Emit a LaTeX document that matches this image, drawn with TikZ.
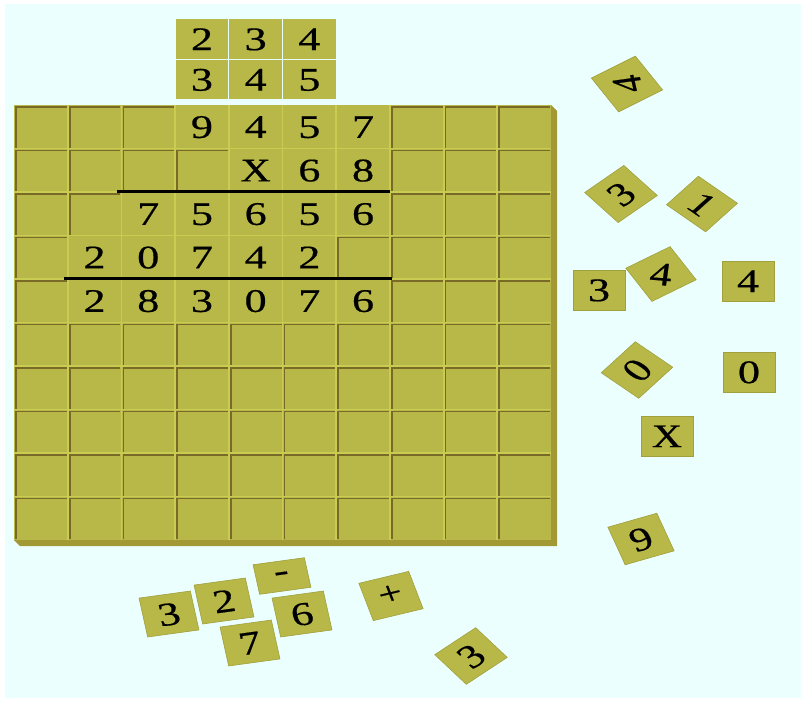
\documentclass[tikz,border=0pt]{standalone}
\usepackage{fontspec}
\setmainfont{Liberation Serif}
\newfontfamily\tilefont[FakeBold=0.5]{Liberation Serif}
\definecolor{sky}{RGB}{236,255,255}
\definecolor{tilecol}{RGB}{184,184,72}
\definecolor{groovecol}{RGB}{122,106,40}
\definecolor{gapcol}{RGB}{200,204,82}
\definecolor{sidecol}{RGB}{163,153,52}
\definecolor{edgecol}{RGB}{160,160,62}
\newcommand\dg[1]{\scalebox{1.05}[1]{#1}}

\begin{document}
\begin{tikzpicture}[x=1pt,y=-1pt]
  \tikzset{
    digit/.style={inner sep=0pt, font=\tilefont\fontsize{33}{33}\selectfont, text height=22.3pt, text depth=0pt},
    tile/.style={digit, fill=tilecol, xscale=1.27, minimum width=41pt, minimum height=40pt},
    cell/.style={tile, minimum height=42pt},
    loose/.style={tile, draw=edgecol, line width=.6pt},
    groove/.style={draw=groovecol, line width=1.7pt},
    gap/.style={draw=gapcol, line width=1.8pt},
    rule/.style={draw=black, line width=2.6pt}
  }
  % background
  \fill[white] (0,0) rectangle (806,702);
  \fill[sky] (5,4) rectangle (801,698);
  \useasboundingbox (0,0) rectangle (806,702);
  % board
  \fill[sidecol] (14,540) -- (20,546) -- (557,546) -- (557,111) -- (551,105) -- cycle;
  \fill[tilecol] (14,105) rectangle (551,540);
  \foreach \i in {1,...,9} {
    \draw[gap] ({14+\i*53.7},105) -- ++(0,435);
    \draw[gap] (14,{105+\i*43.5}) -- ++(537,0);
  }
  \foreach \c in {0,...,9}
    \foreach \r in {0,...,9}
      \draw[groove] ({16+\c*53.7},{104+(\r+1)*43.5}) |- ({13+(\c+1)*53.7},{107+\r*43.5});
  % tiles laid on the board
  \foreach \d [count=\c from 4] in {9,4,5,7}
    \node[cell] (a\c) at ({14+(\c-.5)*53.7},126.75) {\dg{\d}};
  \node[cell] (b5) at ({14+4.5*53.7},170.25) {X};
  \foreach \d [count=\c from 6] in {6,8}
    \node[cell] (b\c) at ({14+(\c-.5)*53.7},170.25) {\dg{\d}};
  \foreach \d [count=\c from 3] in {7,5,6,5,6}
    \node[cell] (c\c) at ({14+(\c-.5)*53.7},213.75) {\dg{\d}};
  \foreach \d [count=\c from 2] in {2,0,7,4,2}
    \node[cell] (d\c) at ({14+(\c-.5)*53.7},257.25) {\dg{\d}};
  \foreach \d [count=\c from 2] in {2,8,3,0,7,6}
    \node[cell] (e\c) at ({14+(\c-.5)*53.7},300.75) {\dg{\d}};
  \coordinate (u1) at (117,191.5);
  \coordinate (v1) at (390,191.5);
  \coordinate (u2) at (64,278.5);
  \coordinate (v2) at (392,278.5);
  \draw[rule] (u1) -- (v1);
  \draw[rule] (u2) -- (v2);
  % tiles above the board
  \foreach \d [count=\c from 4] in {2,3,4}
    \node[tile, minimum width=41.3pt, minimum height=39.5pt] (t\c) at ({14+(\c-.5)*53.7},39) {\dg{\d}};
  \foreach \d [count=\c from 4] in {3,4,5}
    \node[tile, minimum width=41.3pt, minimum height=39.5pt] (s\c) at ({14+(\c-.5)*53.7},79.5) {\dg{\d}};
  % loose tiles on the right
  \node[loose, rotate=32.4] (f1) at (627,84) {};
  \node[digit, xscale=1.27, rotate=100] (f1d) at (f1) {\dg{4}};
  \node[loose, rotate=41.3] (f2) at (621,194) {\dg{3}};
  \node[loose, rotate=-41.3, minimum height=38pt] (f3) at (702,204) {\dg{1}};
  \node[loose] (f4) at (599,290) {\dg{3}};
  \node[loose, rotate=31.8, minimum height=39pt] (f5) at (661,274) {};
  \node[digit, xscale=1.27, rotate=-6] (f5d) at (f5) {\dg{4}};
  \node[loose] (f6) at (748,281) {\dg{4}};
  \node[loose, rotate=49.2, minimum height=39pt] (f7) at (637,370) {\dg{0}};
  \node[loose] (f8) at (749,372) {\dg{0}};
  \node[loose] (f9) at (667,436) {X};
  \node[loose, rotate=19.9] (f10) at (641,539) {\dg{9}};
  % loose tiles below the board
  \node[loose, rotate=9.9, minimum height=39.5pt] (g1) at (169,614) {\dg{3}};
  \node[loose, rotate=9.9, minimum height=39.5pt] (g2) at (224,601) {\dg{2}};
  \node[loose, rotate=9.9, minimum height=30pt] (g3) at (282,576) {\raisebox{6pt}{\dg{-}}};
  \node[loose, rotate=9.9, minimum height=39.5pt] (g4) at (302,614) {\dg{6}};
  \node[loose, rotate=9.9, minimum height=39.5pt] (g5) at (250,643) {\dg{7}};
  \node[loose, rotate=16.9, minimum height=39pt] (g6) at (391,596) {\raisebox{3pt}{+}};
  \node[loose, rotate=39.9, minimum width=42pt, minimum height=38.7pt] (g7) at (471,656) {\dg{3}};
\end{tikzpicture}
\end{document}
